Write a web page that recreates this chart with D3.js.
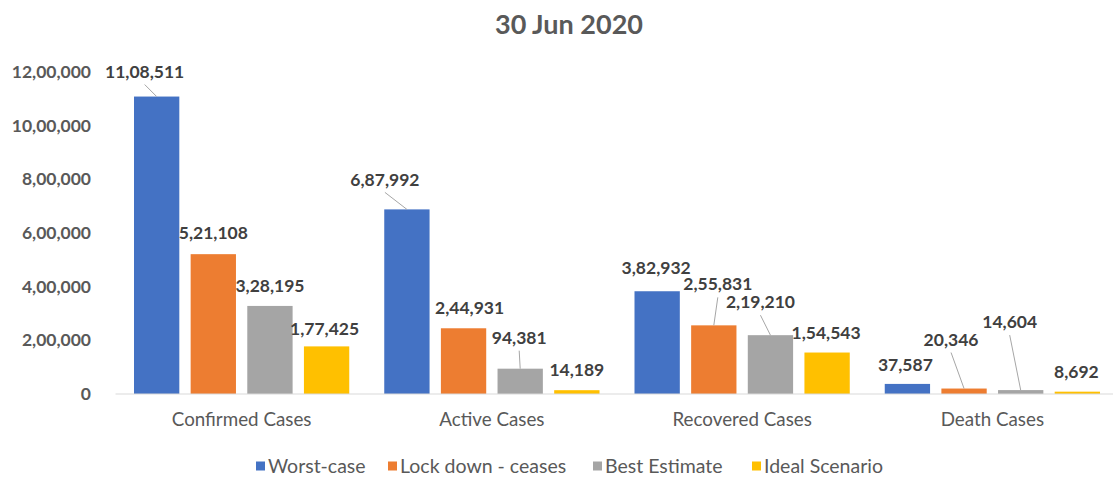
<!DOCTYPE html>
<html>
<head>
<meta charset="utf-8">
<script src="https://cdn.jsdelivr.net/npm/d3@7"></script>
<style>
  html, body { margin: 0; padding: 0; background: #fff; }
  svg { display: block; font-family: Lato, "Open Sans", sans-serif; }
</style>
</head>
<body>
<svg id="chart" width="1113" height="477"></svg>
<script>
// Projected COVID-19 figures for 30 Jun 2020
const categories = ["Confirmed Cases", "Active Cases", "Recovered Cases", "Death Cases"];
const seriesNames = ["Worst-case", "Lock down - ceases", "Best Estimate", "Ideal Scenario"];
const worstCase = [1108511, 687992, 382932, 37587];
const lockDownCeases = [521108, 244931, 255831, 20346];
const bestEstimate = [328195, 94381, 219210, 14604];
const idealScenario = [177425, 14189, 154543, 8692];
const yTickValues = [0, 200000, 400000, 600000, 800000, 1000000, 1200000];
const yTickLabels = ["0", "2,00,000", "4,00,000", "6,00,000", "8,00,000", "10,00,000", "12,00,000"];

const seriesValues = [worstCase, lockDownCeases, bestEstimate, idealScenario];
const colors = ["#4472C4", "#ED7D31", "#A5A5A5", "#FFC000"];

// Label nudges [dx, dy] from each bar's top centre, with a leader flag (per category, per series)
const labelNudges = [
  [[-12, -25, 1], [0, -21, 0], [0, -20, 0], [-2, -18, 0]],
  [[-22, -30, 1], [6, -20, 0], [-1, -31, 1], [0, -20, 0]],
  [[-1, -23, 0], [4, -41, 1], [-10, -33, 1], [-1, -20, 0]],
  [[-2, -19, 0], [-13, -49, 1], [-11, -68, 1], [-1, -20, 0]]
];

// Indian digit grouping: 11,08,511
function indianFormat(n) {
  const s = String(Math.round(n));
  if (s.length <= 3) return s;
  const last3 = s.slice(-3);
  let rest = s.slice(0, -3);
  const parts = [];
  while (rest.length > 2) { parts.unshift(rest.slice(-2)); rest = rest.slice(0, -2); }
  if (rest.length) parts.unshift(rest);
  return parts.join(",") + "," + last3;
}

const svg = d3.select("#chart");
const W = 1113, H = 477;
const margin = { top: 72, left: 116.5, bottom: 83 };
const plotBottom = H - margin.bottom; // 394

svg.append("rect").attr("width", W).attr("height", H).attr("fill", "#fff");

const x = d3.scaleBand().domain(categories).range([margin.left, margin.left + 1001]).paddingInner(0).paddingOuter(0);
const xSub = d3.scaleBand().domain(seriesNames).range([17.5, x.bandwidth() - 17.5]).paddingInner(0.2);
const y = d3.scaleLinear().domain([0, 1200000]).range([plotBottom, margin.top]);

// Title
svg.append("text")
  .attr("x", 569).attr("y", 34)
  .attr("text-anchor", "middle")
  .attr("font-size", 27).attr("font-weight", 700)
  .attr("fill", "#595959")
  .text("30 Jun 2020");

// Y axis (labels only)
const yAxis = d3.axisLeft(y)
  .tickValues(yTickValues)
  .tickFormat((d, i) => yTickLabels[i])
  .tickSize(0).tickPadding(0);
const yg = svg.append("g").attr("transform", "translate(91,0)").call(yAxis);
yg.select(".domain").remove();
yg.selectAll("text")
  .attr("font-family", "Lato, 'Open Sans', sans-serif")
  .attr("font-size", 17.5).attr("font-weight", 700)
  .attr("fill", "#595959");

// Bars
const groups = svg.append("g").selectAll("g")
  .data(categories)
  .join("g")
  .attr("transform", d => `translate(${x(d)},0)`);

groups.selectAll("rect")
  .data((c, ci) => seriesNames.map((s, si) => ({ s, si, ci, v: seriesValues[si][ci] })))
  .join("rect")
  .attr("x", d => xSub(d.s))
  .attr("y", d => y(d.v))
  .attr("width", xSub.bandwidth())
  .attr("height", d => plotBottom - y(d.v))
  .attr("fill", d => colors[d.si]);

// Category axis
const xAxis = d3.axisBottom(x).tickSize(0).tickPadding(19);
const xg = svg.append("g").attr("transform", `translate(0,${plotBottom})`).call(xAxis);
xg.select(".domain").attr("stroke", "#d9d9d9").attr("d", `M${margin.left - 1},0H${W}`);
xg.selectAll("text")
  .attr("font-family", "Lato, 'Open Sans', sans-serif")
  .attr("font-size", 18.8)
  .attr("fill", "#595959");

// Data labels with leader lines
const labels = [];
categories.forEach((c, ci) => {
  seriesNames.forEach((s, si) => {
    const v = seriesValues[si][ci];
    const bx = x(c) + xSub(s) + xSub.bandwidth() / 2;
    const by = y(v);
    const [dx, dy, leader] = labelNudges[ci][si];
    labels.push({ v, bx, by, lx: bx + dx, ly: by + dy, leader });
  });
});

svg.append("g").selectAll("line")
  .data(labels.filter(d => d.leader))
  .join("line")
  .attr("x1", d => d.lx).attr("y1", d => d.ly + 13)
  .attr("x2", d => d.bx).attr("y2", d => d.by)
  .attr("stroke", "#a6a6a6").attr("stroke-width", 1);

svg.append("g").selectAll("text")
  .data(labels)
  .join("text")
  .attr("x", d => d.lx).attr("y", d => d.ly)
  .attr("dy", "0.35em")
  .attr("text-anchor", "middle")
  .attr("font-size", 17.5).attr("font-weight", 700)
  .attr("fill", "#404040")
  .text(d => indianFormat(d.v));

// Legend
const legendX = [256, 388, 593, 752];
const legend = svg.append("g").selectAll("g")
  .data(seriesNames)
  .join("g")
  .attr("transform", (d, i) => `translate(${legendX[i]},466)`);
legend.append("rect")
  .attr("x", 0).attr("y", -4.5).attr("width", 9).attr("height", 9)
  .attr("fill", (d, i) => colors[i]);
legend.append("text")
  .attr("x", 12).attr("y", 0).attr("dy", "0.35em")
  .attr("font-size", 19.5)
  .attr("fill", "#595959")
  .text(d => d);
</script>
</body>
</html>
